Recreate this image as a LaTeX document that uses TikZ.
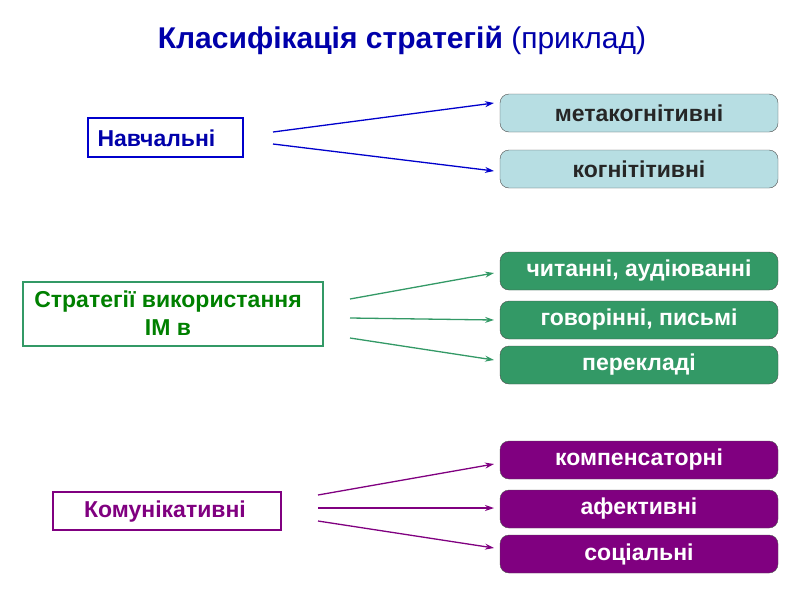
\documentclass[tikz,border=0pt]{standalone}
\usepackage{fontspec}
\setmainfont{Liberation Sans}
\usetikzlibrary{arrows.meta}
\definecolor{nblue}{RGB}{0,0,204}
\definecolor{tblue}{RGB}{0,0,170}
\definecolor{lblue}{RGB}{183,222,227}
\definecolor{sgreen}{RGB}{51,153,102}
\definecolor{tgreen}{RGB}{0,128,0}
\definecolor{purp}{RGB}{128,0,128}
\tikzset{
 rbox/.style={draw=black!70, rounded corners=9pt, minimum width=278pt, minimum height=38pt, font=\fontsize{23}{25}\selectfont\bfseries},
 lbox/.style={draw, line width=1.5pt},
 arr/.style={-{Stealth[length=9pt,width=6pt]}, line width=1.3pt},
}
\begin{document}
\begin{tikzpicture}[x=1pt,y=-1pt]
\useasboundingbox (0,0) rectangle (800,600);
\node (title) at (402,40) {\fontsize{30}{32}\selectfont\color{tblue}\textbf{Класифікація стратегій} (приклад)};
% left boxes
\draw[lbox,nblue] (88,118) rectangle (243,157);
\node[font=\fontsize{23}{25}\selectfont\bfseries, text=tblue, anchor=west] (nav) at (94,138) {Навчальні};
\draw[lbox,sgreen] (23,282) rectangle (323,346);
\node[font=\fontsize{23}{28}\selectfont\bfseries, text=tgreen, align=center] (str) at (168,313) {Стратегії використання\\ІМ в};
\draw[lbox,purp] (53,492) rectangle (281,530);
\node[font=\fontsize{23}{25}\selectfont\bfseries, text=purp] (kom) at (165,512) {Комунікативні};
% right boxes
\node[rbox, fill=lblue, text=black!85] (m1) at (639,113) {метакогнітивні};
\node[rbox, fill=lblue, text=black!85] (m2) at (639,169) {когнітітивні};
\node[rbox, fill=sgreen, text=white] (g1) at (639,271) {читанні, аудіюванні};
\node[rbox, fill=sgreen, text=white] (g2) at (639,320) {говорінні, письмі};
\node[rbox, fill=sgreen, text=white] (g3) at (639,365) {перекладі};
\node[rbox, fill=purp, text=white] (p1) at (639,460) {компенсаторні};
\node[rbox, fill=purp, text=white] (p2) at (639,509) {афективні};
\node[rbox, fill=purp, text=white] (p3) at (639,554) {соціальні};
% arrow starts
\coordinate (a1) at (273,132); \coordinate (a2) at (273,144);
\coordinate (b1) at (350,299); \coordinate (b2) at (350,318); \coordinate (b3) at (350,338);
\coordinate (c1) at (318,495); \coordinate (c2) at (318,508); \coordinate (c3) at (318,521);
\coordinate (e1) at (494,103); \coordinate (e2) at (494,171);
\coordinate (f1) at (494,273); \coordinate (f2) at (494,320); \coordinate (f3) at (494,360);
\coordinate (h1) at (494,464); \coordinate (h2) at (494,508); \coordinate (h3) at (494,548);
\draw[arr,nblue] (a1) -- (e1); \draw[arr,nblue] (a2) -- (e2);
\draw[arr,sgreen] (b1) -- (f1); \draw[arr,sgreen] (b2) -- (f2); \draw[arr,sgreen] (b3) -- (f3);
\draw[arr,purp] (c1) -- (h1); \draw[arr,purp] (c2) -- (h2); \draw[arr,purp] (c3) -- (h3);
\end{tikzpicture}
\end{document}
